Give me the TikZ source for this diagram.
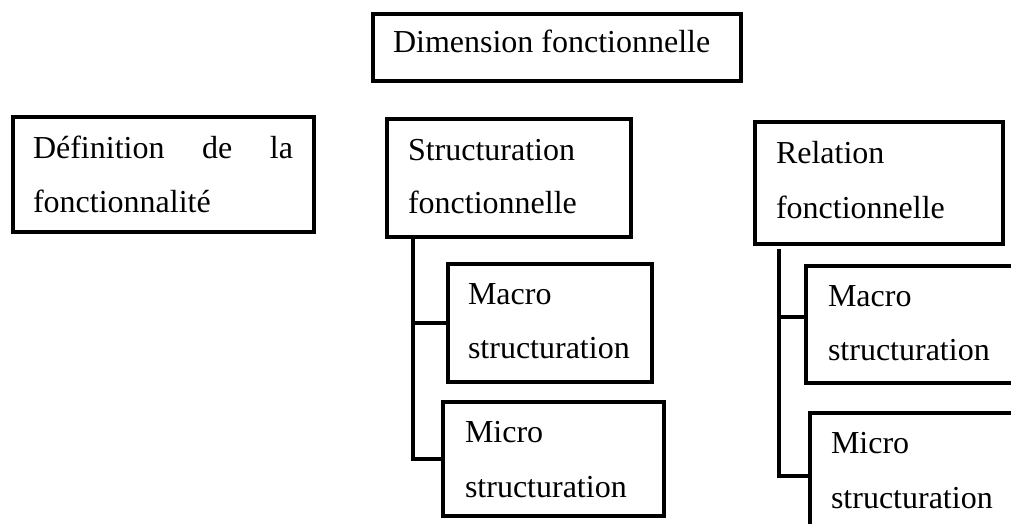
\documentclass[tikz,border=0pt]{standalone}
\usepackage{fontspec}
\setmainfont{Liberation Serif}
\begin{document}
\begin{tikzpicture}[x=1pt,y=-1pt,
  box/.style={draw=black,line width=3.3pt,rectangle,inner sep=0pt,outer sep=0pt},
  lbl/.style={anchor=base west,inner sep=0pt,outer sep=0pt,font=\fontsize{32}{38}\selectfont},
  conn/.style={draw=black,line width=3.3pt}]
\useasboundingbox (0,0) rectangle (1011,524);
\clip (0,0) rectangle (1011,524);
% boxes
\node[box,minimum width=368pt,minimum height=67pt] (dim) at (557,47.5) {};
\node[box,minimum width=301pt,minimum height=115pt] (def) at (163.5,174.5) {};
\node[box,minimum width=244pt,minimum height=118pt] (str) at (509,178) {};
\node[box,minimum width=248pt,minimum height=122pt] (rel) at (879,183) {};
\node[box,minimum width=204pt,minimum height=118pt] (mac1) at (550,323) {};
\node[box,minimum width=221pt,minimum height=114pt] (mic1) at (553.5,459) {};
\node[box,minimum width=214pt,minimum height=117pt] (mac2) at (913,324.5) {};
\node[box,minimum width=210pt,minimum height=127pt] (mic2) at (915,476.5) {};
% texts
\node[lbl] (tdim) at (393,53) {Dimension fonctionnelle};
\node[lbl] (tdef1) at (33,158) {\makebox[260pt][l]{Définition\hfill de\hfill la}};
\node[lbl] (tdef2) at (33,212) {fonctionnalité};
\node[lbl] (tstr1) at (408,160) {Structuration};
\node[lbl] (tstr2) at (408,213) {fonctionnelle};
\node[lbl] (trel1) at (776,163) {Relation};
\node[lbl] (trel2) at (776,218) {fonctionnelle};
\node[lbl] (tmac1a) at (468,304) {Macro};
\node[lbl] (tmac1b) at (468,358) {structuration};
\node[lbl] (tmic1a) at (465,442) {Micro};
\node[lbl] (tmic1b) at (465,497) {structuration};
\node[lbl] (tmac2a) at (828,306) {Macro};
\node[lbl] (tmac2b) at (828,360) {structuration};
\node[lbl] (tmic2a) at (831,453) {Micro};
\node[lbl] (tmic2b) at (831,508) {structuration};
% connectors, left tree
\coordinate (sl) at (413,0);
\draw[conn] (str.south -| sl) -- (sl |- mic1.west) -- (mic1.west);
\draw[conn] (sl |- mac1.west) -- (mac1.west);
% connectors, right tree
\coordinate (rt) at (779,249);
\coordinate (rm) at (779,317);
\coordinate (rb) at (779,476);
\draw[conn] (rt) -- (rb) -- (rb -| mic2.west);
\draw[conn] (rm) -- (rm -| mac2.west);
\end{tikzpicture}
\end{document}
